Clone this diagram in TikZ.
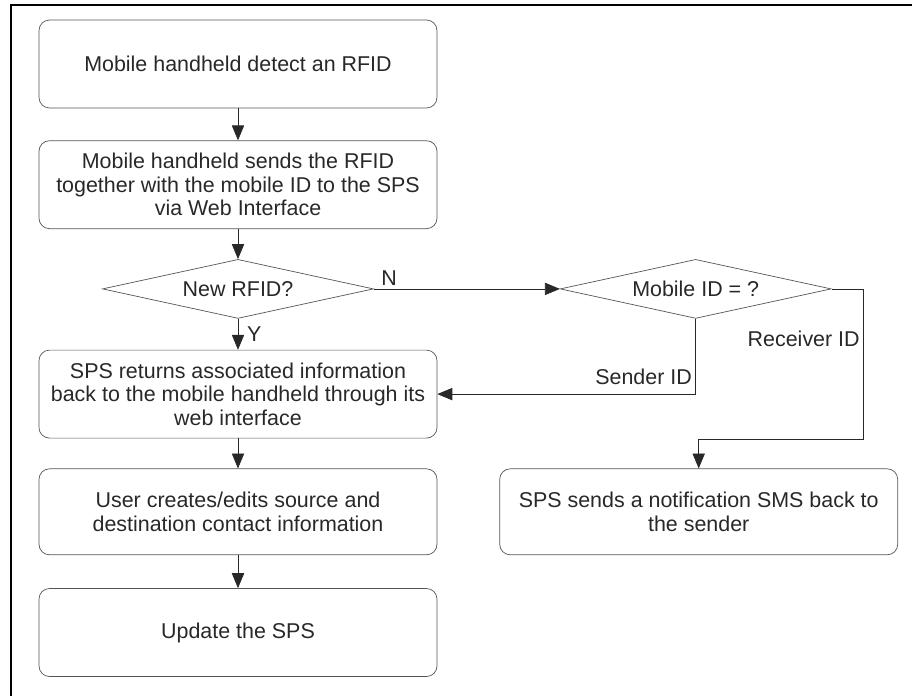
\documentclass[tikz,border=0pt]{standalone}
\usepackage{fontspec}
\setmainfont{Liberation Sans}
\usepackage{tikz}
\usetikzlibrary{shapes.geometric, arrows.meta, positioning, calc}
\definecolor{flowInk}{RGB}{40,40,40}
\definecolor{flowEdge}{RGB}{85,85,85}

\begin{document}
\begin{tikzpicture}[
      every node/.style={font=\fontsize{12.2}{13.3}\selectfont, text=flowInk},
      stepbox/.style={rounded corners=6pt, draw=flowEdge, thin, minimum width=7.96cm, minimum height=1.76cm,
      align=center, inner sep=2pt},
      ask/.style={diamond, aspect=4.6, draw=flowEdge, thin, minimum width=5.42cm, minimum height=1.18cm, inner sep=0pt},
      arrow/.style={-{Triangle[length=8.5pt, width=7pt]}, thin, draw=flowInk},
      lbl/.style={inner sep=2pt}
    ]
    \useasboundingbox (0,0) rectangle (18.24,-13.92);
    \draw[line width=1.1pt] (0.22,-13.92) -- (0.22,-0.1) -- (18.24,-0.1);

    \node[stepbox] (detect) at (4.76,-1.28) {Mobile handheld detect an RFID};
    \node[stepbox, below=0.64cm of detect] (send) {Mobile handheld sends the RFID\\together with the mobile ID to the SPS\\via Web Interface};
    \node[ask, below=0.6cm of send] (isnew) {New RFID?};
    \node[ask, right=3.72cm of isnew] (whoid) {Mobile ID = ?};
    \node[stepbox, below=0.62cm of isnew] (reply) {SPS returns associated information\\back to the mobile handheld through its\\web interface};
    \node[stepbox, below=0.6cm of reply, minimum height=1.72cm] (edit) {User creates/edits source and\\destination contact information};
    \node[stepbox, below=0.66cm of edit] (update) {Update the SPS};
    \node[stepbox, right=1.24cm of edit, minimum height=1.72cm] (notify) {SPS sends a notification SMS back to\\the sender};

    \draw[arrow] (detect) -- (send);
    \draw[arrow] (send) -- (isnew);
    \draw[arrow] (isnew) -- node[right, lbl, xshift=3pt] {Y} (reply);
    \draw[arrow] (isnew.east) -- node[pos=0.02, above right, lbl] {N} (whoid.west);
    \draw[arrow] (whoid.south) |- node[pos=0.5, above left, lbl, yshift=3pt] {Sender ID} (reply.east);
    \draw[arrow] (whoid.east) -- ++(0.64,0) |- node[pos=0.165, left, lbl] {Receiver ID} ($(notify.north)+(0,0.58)$) -- (notify.north);
    \draw[arrow] (reply) -- (edit);
    \draw[arrow] (edit) -- (update);
  \end{tikzpicture}
\end{document}
